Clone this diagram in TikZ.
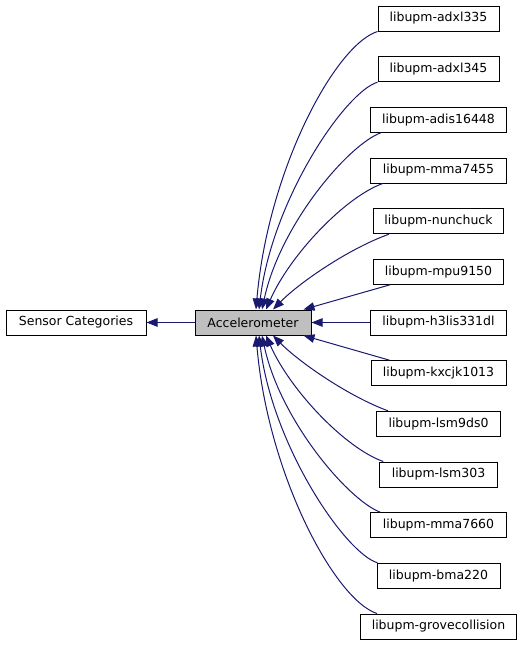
\documentclass[tikz,border=0pt]{standalone}
\usepackage{fontspec}
\setmainfont{DejaVu Sans}
\usetikzlibrary{arrows.meta}
\definecolor{edgeblue}{RGB}{25,25,112}
\definecolor{accgray}{RGB}{191,191,191}
\begin{document}
\begin{tikzpicture}[x=1pt,y=-1pt,
  box/.style={draw=black,line width=1pt,minimum height=25pt,inner sep=0pt,font=\fontsize{12.5}{14}\selectfont},
  edge/.style={draw=edgeblue,line width=1pt,-{Triangle[length=11pt,width=8.5pt]}}]
\useasboundingbox (0,0) rectangle (523,645);
\node[box,minimum width=140pt] (sc) at (76,322.5) {Sensor Categories};
\node[box,minimum width=116pt,fill=accgray] (acc) at (253,322.5) {Accelerometer};
\node[box,minimum width=121pt] (c1) at (438.5,18.5) {libupm-adxl335};
\node[box,minimum width=121pt] (c2) at (438.5,69.2) {libupm-adxl345};
\node[box,minimum width=136.5pt] (c3) at (438.5,119.8) {libupm-adis16448};
\node[box,minimum width=136.5pt] (c4) at (438.5,170.5) {libupm-mma7455};
\node[box,minimum width=130pt] (c5) at (438.5,221.2) {libupm-nunchuck};
\node[box,minimum width=130pt] (c6) at (438.5,271.8) {libupm-mpu9150};
\node[box,minimum width=136pt] (c7) at (438.5,322.5) {libupm-h3lis331dl};
\node[box,minimum width=135pt] (c8) at (438.5,373.2) {libupm-kxcjk1013};
\node[box,minimum width=124pt] (c9) at (438.5,423.8) {libupm-lsm9ds0};
\node[box,minimum width=117.5pt] (c10) at (438.5,474.5) {libupm-lsm303};
\node[box,minimum width=135.5pt] (c11) at (438.5,525.2) {libupm-mma7660};
\node[box,minimum width=123pt] (c12) at (438.5,575.8) {libupm-bma220};
\node[box,minimum width=156pt] (c13) at (438.5,626.5) {libupm-grovecollision};

\draw[edge] (acc.west) -- (sc.east);
\draw[edge] (c1.south west) .. controls (335,45) and (268,170) .. ([xshift=3pt]acc.north);
\draw[edge] (c2.south west) .. controls (345,92) and (272,200) .. ([xshift=6pt]acc.north);
\draw[edge] ([xshift=11pt]c3.south west) .. controls (348,145) and (280,225) .. ([xshift=9pt]acc.north);
\draw[edge] ([xshift=13pt]c4.south west) .. controls (345,197) and (290,255) .. ([xshift=13pt]acc.north);
\draw[edge] ([xshift=16pt]c5.south west) .. controls (350,248) and (300,282) .. ([xshift=20pt]acc.north);
\draw[edge] ([xshift=17pt]c6.south west) -- ([xshift=-8pt]acc.north east);
\draw[edge] (c7.west) -- (acc.east);
\draw[edge] ([xshift=19pt]c8.north west) -- ([xshift=-8pt]acc.south east);
\draw[edge] ([xshift=12pt]c9.north west) .. controls (350,397) and (300,363) .. ([xshift=20pt]acc.south);
\draw[edge] ([xshift=4pt]c10.north west) .. controls (345,448) and (290,390) .. ([xshift=13pt]acc.south);
\draw[edge] ([xshift=10pt]c11.north west) .. controls (348,500) and (280,420) .. ([xshift=9pt]acc.south);
\draw[edge] ([xshift=1pt]c12.north west) .. controls (345,553) and (272,445) .. ([xshift=6pt]acc.south);
\draw[edge] ([xshift=17pt]c13.north west) .. controls (335,600) and (268,475) .. ([xshift=3pt]acc.south);
\end{tikzpicture}
\end{document}
